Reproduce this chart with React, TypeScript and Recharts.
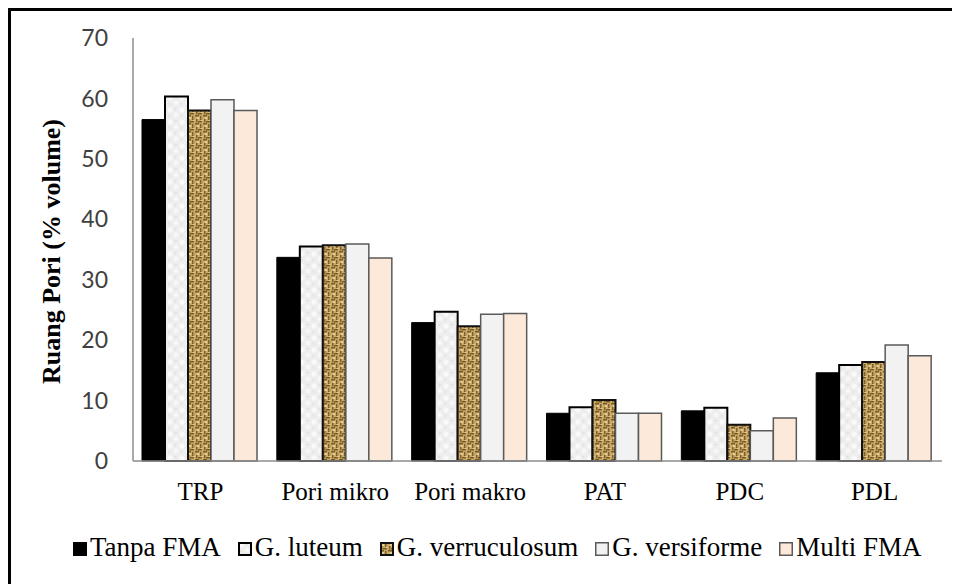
import { BarChart, Bar, XAxis, YAxis } from "recharts";

const categories = ["TRP", "Pori mikro", "Pori makro", "PAT", "PDC", "PDL"];
const tanpaFma = [56.5, 33.7, 22.9, 7.9, 8.3, 14.6];
const gLuteum = [60.3, 35.5, 24.7, 8.9, 8.8, 15.9];
const gVerruculosum = [58.0, 35.7, 22.3, 10.1, 6.0, 16.4];
const gVersiforme = [59.8, 35.9, 24.3, 7.9, 5.0, 19.2];
const multiFma = [58.0, 33.6, 24.4, 7.9, 7.1, 17.4];
const yTicks = [0, 10, 20, 30, 40, 50, 60, 70];

const series = [
	{ key: "tanpa", name: "Tanpa FMA", values: tanpaFma, fill: "#000000", stroke: "#000000", sw: 1 },
	{ key: "luteum", name: "G. luteum", values: gLuteum, fill: "url(#patLuteum)", stroke: "#000000", sw: 2 },
	{ key: "verr", name: "G. verruculosum", values: gVerruculosum, fill: "url(#patVerr)", stroke: "#111111", sw: 2 },
	{ key: "versi", name: "G. versiforme", values: gVersiforme, fill: "#f2f2f2", stroke: "#5a5a5a", sw: 1.5 },
	{ key: "multi", name: "Multi FMA", values: multiFma, fill: "#fde9d9", stroke: "#5a5a5a", sw: 1.5 },
];

const rows = categories.map((c, i) => {
	const row: { [key: string]: number | string } = { cat: c };
	series.forEach((s) => (row[s.key] = s.values[i]));
	return row;
});

const serif = "Liberation Serif, Times New Roman, Tinos, serif";

function YLabel(props: any) {
	const vb = props.viewBox || { x: 52, y: 27, height: 423 };
	const cx = vb.x - 3;
	const cy = vb.y + vb.height / 2 + 2;
	return (
		<text
			x={cx}
			y={cy}
			transform={`rotate(-90, ${cx}, ${cy})`}
			textAnchor="middle"
			style={{ fontFamily: serif, fontWeight: "bold", fontSize: 26 }}
			fill="#000"
		>
			Ruang Pori (% volume)
		</text>
	);
}

function XTick(props: any) {
	const { x, y, payload } = props;
	return (
		<text x={x} y={y + 37} textAnchor="middle" style={{ fontFamily: serif, fontSize: 25 }} fill="#000">
			{payload.value}
		</text>
	);
}

function Patterns() {
	return (
		<svg width={0} height={0} style={{ position: "absolute" }}>
			<defs>
				<pattern id="patLuteum" patternUnits="userSpaceOnUse" width={12} height={12}>
					<rect width={12} height={12} fill="#eeeeee" />
					<circle cx={3} cy={3} r={2.6} fill="#f9f9f9" />
					<circle cx={9} cy={8} r={2.4} fill="#f7f7f7" />
					<circle cx={8.5} cy={2} r={1.2} fill="#e2e2e2" />
					<circle cx={2.5} cy={9} r={1.2} fill="#e4e4e4" />
				</pattern>
				<pattern id="patVerr" patternUnits="userSpaceOnUse" width={8} height={8}>
					<rect width={8} height={8} fill="#c9aa68" />
					<rect x={0} y={0} width={4} height={1.5} fill="#7a5a26" />
					<rect x={5} y={1} width={1.5} height={4} fill="#7f602b" />
					<rect x={1} y={4} width={1.5} height={3.5} fill="#84642e" />
					<rect x={3} y={6} width={4} height={1.5} fill="#7a5a26" />
					<rect x={2} y={2} width={2} height={2} fill="#e4cf96" />
					<rect x={6} y={5} width={1.5} height={1} fill="#e8d49c" />
				</pattern>
			</defs>
		</svg>
	);
}

function LegendRow() {
	return (
		<div
			style={{
				position: "absolute",
				left: 62,
				top: 521,
				display: "flex",
				alignItems: "center",
				gap: 17,
				fontFamily: serif,
				fontSize: 27,
				lineHeight: "30px",
				color: "#000",
				whiteSpace: "nowrap",
			}}
		>
			{series.map((s) => (
				<div key={s.key} style={{ display: "flex", alignItems: "center" }}>
					<svg width={14} height={14} style={{ marginRight: 3, marginTop: 3 }}>
						<rect
							x={s.sw / 2}
							y={s.sw / 2}
							width={14 - s.sw}
							height={14 - s.sw}
							fill={s.fill}
							stroke={s.stroke}
							strokeWidth={s.sw}
						/>
					</svg>
					<span style={{ fontFamily: serif }}>{s.name}</span>
				</div>
			))}
		</div>
	);
}

export default function App() {
	return (
		<div
			style={{
				position: "relative",
				width: 949,
				height: 573,
				borderTop: "3px solid #000",
				borderLeft: "3px solid #000",
				background: "#fff",
				fontFamily: serif,
			}}
		>
			<Patterns />
			<BarChart
				width={949}
				height={573}
				data={rows}
				margin={{ top: 27, right: 18, left: 52, bottom: 0 }}
				barCategoryGap={9}
				barGap={0}
			>
				<XAxis
					dataKey="cat"
					height={123}
					tickLine={false}
					tickSize={0}
					axisLine={{ stroke: "#8c8c8c", strokeWidth: 1.5 }}
					tick={<XTick />}
					interval={0}
				/>
				<YAxis
					width={70}
					domain={[0, 70]}
					ticks={yTicks}
					tickLine={false}
					tickSize={0}
					tickMargin={25}
					axisLine={{ stroke: "#8c8c8c", strokeWidth: 1.5 }}
					tick={{ fontFamily: "Lato, 'Open Sans', sans-serif", fontSize: 23, fill: "#404040" }}
					label={{ content: (p: any) => <YLabel {...p} /> }}
				/>
				{series.map((s) => (
					<Bar
						key={s.key}
						dataKey={s.key}
						name={s.name}
						fill={s.fill}
						stroke={s.stroke}
						strokeWidth={s.sw}
						isAnimationActive={false}
					/>
				))}
			</BarChart>
			<LegendRow />
		</div>
	);
}
